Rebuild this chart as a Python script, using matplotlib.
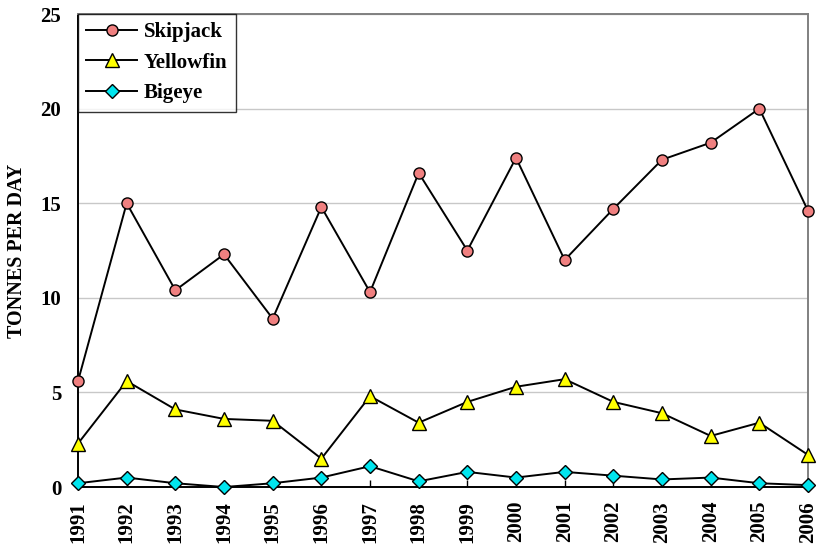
import matplotlib
matplotlib.use("Agg")
import matplotlib.pyplot as plt

years = [1991, 1992, 1993, 1994, 1995, 1996, 1997, 1998, 1999, 2000, 2001, 2002, 2003, 2004, 2005, 2006]
skipjack = [5.6, 15.0, 10.4, 12.3, 8.9, 14.8, 10.3, 16.6, 12.5, 17.4, 12.0, 14.7, 17.3, 18.2, 20.0, 14.6]
yellowfin = [2.3, 5.6, 4.1, 3.6, 3.5, 1.5, 4.8, 3.4, 4.5, 5.3, 5.7, 4.5, 3.9, 2.7, 3.4, 1.7]
bigeye = [0.2, 0.5, 0.2, 0.0, 0.2, 0.5, 1.1, 0.3, 0.8, 0.5, 0.8, 0.6, 0.4, 0.5, 0.2, 0.1]
yticks = [0, 5, 10, 15, 20, 25]

plt.rcParams['font.family'] = ['Liberation Serif', 'DejaVu Serif']
plt.rcParams['font.weight'] = 'bold'

fig = plt.figure(figsize=(8.17, 5.5), dpi=100)
ax = fig.add_axes([0.0955, 0.1145, 0.8935, 0.86])

ax.plot(years, skipjack, color='black', lw=1.4, marker='o', ms=8,
        mfc='#f08080', mec='black', mew=1.0, label='Skipjack', clip_on=False, zorder=3)
ax.plot(years, yellowfin, color='black', lw=1.4, marker='^', ms=10,
        mfc='#ffff00', mec='black', mew=1.0, label='Yellowfin', clip_on=False, zorder=3)
ax.plot(years, bigeye, color='black', lw=1.4, marker='D', ms=7,
        mfc='#00e5ee', mec='black', mew=1.0, label='Bigeye', clip_on=False, zorder=3)

ax.set_xlim(years[0], years[-1])
ax.set_ylim(0, 25)
ax.set_yticks(yticks)
ax.set_xticks(years)
ax.set_xticklabels([str(y) for y in years], rotation=90, fontsize=15, fontweight='bold')
ax.set_yticklabels([str(v) for v in yticks], fontsize=15, fontweight='bold')
ax.tick_params(axis='y', length=0, pad=12)
ax.tick_params(axis='x', direction='in', length=5, width=1, pad=10)
ax.grid(axis='y', color='#c8c8c8', lw=1)
ax.set_axisbelow(True)

for s in ['left', 'bottom']:
    ax.spines[s].set_color('black')
    ax.spines[s].set_linewidth(1.4)
for s in ['top', 'right']:
    ax.spines[s].set_color('#808080')
    ax.spines[s].set_linewidth(1.4)

ax.set_ylabel('TONNES PER DAY', fontsize=14.5, fontweight='bold', labelpad=10)

leg = ax.legend(loc='upper left', bbox_to_anchor=(0, 1), frameon=True, fancybox=False,
                edgecolor='black', borderaxespad=0, handlelength=2.45,
                labelspacing=0.5, borderpad=0.4, handletextpad=0.3,
                prop={'weight': 'bold', 'size': 15})
leg.get_frame().set_linewidth(1.0)

fig.savefig('out.png', dpi=100)
